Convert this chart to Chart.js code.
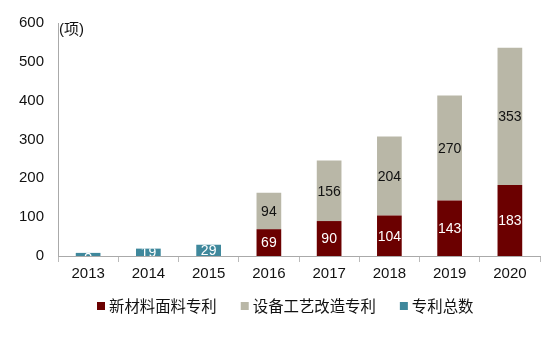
<!DOCTYPE html>
<html><head><meta charset="utf-8">
<script src="https://cdn.jsdelivr.net/npm/chart.js@4/dist/chart.umd.min.js"></script>
<style>html,body{margin:0;padding:0;background:#fff}#wrap{width:550px;height:338px;position:relative}</style>
</head><body><div id="wrap"><canvas id="c" width="550" height="338"></canvas></div>
<script>
const years = ['2013','2014','2015','2016','2017','2018','2019','2020'];
const newMaterial = [null,null,null,69,90,104,143,183];
const equipment = [null,null,null,94,156,204,270,353];
const totalPatents = [8,19,29,null,null,null,null,null];
const yTicks = [0,100,200,300,400,500,600];
const unitLabel = '(项)';
const seriesNames = ['新材料面料专利','设备工艺改造专利','专利总数'];

const FONT = "'Liberation Sans', Arial, 'Noto Sans CJK SC', sans-serif";
const CJK = "'Noto Sans CJK SC', sans-serif";

const labelPlugin = {
  id: 'barLabels',
  afterDatasetsDraw(chart) {
    const ctx = chart.ctx;
    chart.data.datasets.forEach((ds, di) => {
      const meta = chart.getDatasetMeta(di);
      meta.data.forEach((bar, i) => {
        const v = ds.data[i];
        if (v == null) return;
        const top = Math.min(bar.y, bar.base), bot = Math.max(bar.y, bar.base);
        const left = bar.x - bar.width/2;
        ctx.save();
        ctx.beginPath();
        ctx.rect(left, top, bar.width, bot - top);
        ctx.clip();
        ctx.font = '14px ' + FONT;
        ctx.fillStyle = ds.labelColor;
        ctx.textAlign = 'center';
        ctx.textBaseline = 'middle';
        ctx.fillText(String(v), bar.x, (top + bot)/2 + 1);
        ctx.restore();
      });
    });
    const ca = chart.chartArea;
    ctx.save();
    ctx.font = '15px ' + FONT;
    ctx.fillStyle = '#111';
    ctx.textAlign = 'left';
    ctx.textBaseline = 'middle';
    ctx.fillText(unitLabel, ca.left + 1, ca.top + 7);
    // legend
    ctx.font = '15.4px ' + CJK;
    ctx.textBaseline = 'middle';
    const yc = 306;
    let widths = chart.data.datasets.map(d => ctx.measureText(d.label).width);
    const box = 8, gap = 4, itemGap = 24;
    let total = widths.reduce((a,w)=>a+box+gap+w,0) + itemGap*(widths.length-1);
    let x = 97;
    chart.data.datasets.forEach((d, i) => {
      ctx.fillStyle = d.backgroundColor;
      ctx.fillRect(x, yc - 4, box, box);
      ctx.fillStyle = '#111';
      ctx.fillText(d.label, x + box + gap, yc);
      x += box + gap + widths[i] + itemGap;
    });
    ctx.restore();
  }
};

new Chart(document.getElementById('c'), {
  type: 'bar',
  data: {
    labels: years,
    datasets: [
      {label: seriesNames[0], data: newMaterial, backgroundColor: '#6B0000', labelColor: '#fff', stack: 's'},
      {label: seriesNames[1], data: equipment, backgroundColor: '#B9B7A7', labelColor: '#111', stack: 's'},
      {label: seriesNames[2], data: totalPatents, backgroundColor: '#3F889C', labelColor: '#fff', stack: 's'}
    ]
  },
  options: {
    responsive: false,
    animation: false,
    devicePixelRatio: 1,
    layout: {padding: {top: 12, right: 10, left: 0, bottom: 52}},
    datasets: {bar: {barPercentage: 0.82, categoryPercentage: 0.5}},
    plugins: {
      legend: {display: false},
      tooltip: {enabled: false}
    },
    scales: {
      x: {
        stacked: true,
        grid: {display: true, drawOnChartArea: false, drawTicks: true, tickLength: 6, color: '#BBB', offset: true},
        border: {color: '#AAA'},
        ticks: {font: {size: 15, family: FONT}, color: '#111', padding: 3},
        afterFit: s => { s.height = 30; }
      },
      y: {
        stacked: true,
        min: 0, max: 600,
        afterBuildTicks: s => { s.ticks = yTicks.map(v => ({value: v})); },
        grid: {display: false, drawTicks: false},
        border: {color: '#AAA'},
        ticks: {font: {size: 15, family: FONT}, color: '#111', padding: 14},
        afterFit: s => { s.width = 58; }
      }
    }
  },
  plugins: [labelPlugin]
});
</script>
</body></html>
